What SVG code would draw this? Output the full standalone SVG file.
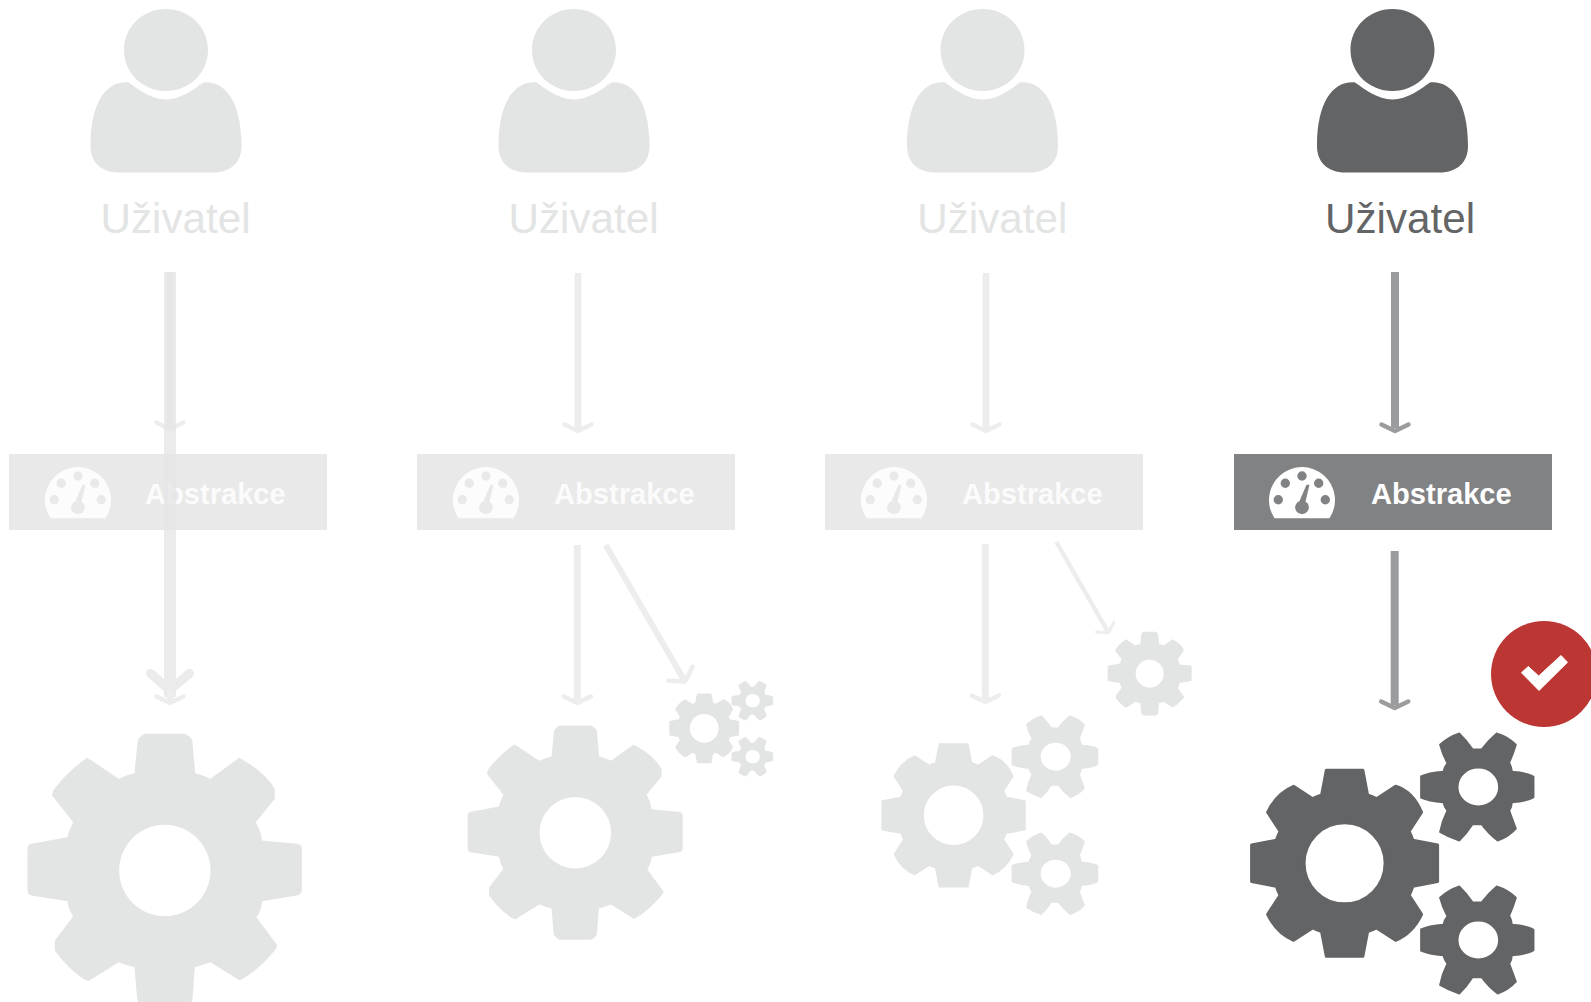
<svg xmlns="http://www.w3.org/2000/svg" width="1591" height="1002" viewBox="0 0 1591 1002">
<style>
.bg{fill:#fff}
.ic-l{fill:#e3e4e4}
.ic-d{fill:#636466}
.st-l{stroke:#e3e4e4}
.st-d{stroke:#636466}
.box-l{fill:#e9e9e9}
.box-d{fill:#818284}
.gauge-l{fill:#fcfcfc}
.gauge-d{fill:#fff}
.u{font-family:"Liberation Sans",Arial,sans-serif;font-size:42.2px}
.u-l{fill:#e3e4e4}
.u-d{fill:#636466}
.a{font-family:"Liberation Sans",Arial,sans-serif;font-size:29.1px;font-weight:bold}
.a-l{fill:#fbfbfb}
.a-d{fill:#fff}
.ln{fill:none}
.ln-l{stroke:#ededed;stroke-width:7}
.ln-d{stroke:#9b9c9e;stroke-width:8}
.hd{fill:none;stroke-width:4.5;stroke-linecap:round;stroke-linejoin:round}
</style>
<defs>
<path id="person" d="M-37.5,82.5C-28,89 -15,99.5 0,99.5C15,99.5 28,89 37.5,82.5C58,80.5 75.5,100 75.5,146C75.5,162 65,172.5 47,172.5L-47,172.5C-65,172.5 -75.5,162 -75.5,146C-75.5,100 -58,80.5 -37.5,82.5ZM-42,50C-42,27 -23.5,9 0,9C23.5,9 42,27 42,50C42,73 23.5,91 0,91C-23.5,91 -42,73 -42,50Z"/>
<path id="gear-a" fill-rule="evenodd" d="M-91,-292L-82,-385Q-82,-398 -60,-410L60,-410Q83,-398 83,-385L91,-292Q115,-288 137,-275L223,-338L237,-330Q300,-295 330,-245L330,-215L273,-145Q288,-120 292,-90L395,-80Q411,-78 411,-65L411,60Q411,72 395,75L292,92Q290,120 275,140L338,225L330,240Q280,300 225,330L137,275Q115,283 90,290L83,385Q83,398 60,410L-60,410Q-82,398 -83,385L-91,290Q-115,285 -138,275L-230,332L-245,325Q-295,290 -330,240L-330,210L-275,138Q-290,115 -292,92L-400,75Q-412,72 -412,60L-412,-65Q-412,-78 -400,-80L-292,-100Q-288,-120 -275,-145L-338,-225L-335,-240Q-290,-300 -233,-338L-220,-330L-138,-275Q-115,-288 -91,-292ZM137,0A137,137 0 1 0 -137,0A137,137 0 1 0 137,0Z"/>
<path id="gear-b" fill-rule="evenodd" stroke-width="3" stroke-linejoin="round" d="M-23,-68.3L-18.3,-93L18.3,-93L23,-68.3A72,72 0 0 1 32,-64.6L51,-77Q68,-72 77,-51L64.6,-32A72,72 0 0 1 68.3,-23L93,-18.3L93,18.3L68.3,23A72,72 0 0 1 64.6,32L77,51Q68,70 51,77L32,64.6A72,72 0 0 1 23,68.3L18.3,93L-18.3,93L-23,68.3A72,72 0 0 1 -32,64.6L-51,77Q-68,70 -77,51L-64.6,32A72,72 0 0 1 -68.3,23L-93,18.3L-93,-18.3L-68.3,-23A72,72 0 0 1 -64.6,-32L-77,-51Q-68,-70 -51,-77L-32,-64.6A72,72 0 0 1 -23,-68.3ZM40.5,0A40.5,40.5 0 1 0 -40.5,0A40.5,40.5 0 1 0 40.5,0Z"/>
<path id="gear-c" fill-rule="evenodd" stroke-width="5" stroke-linejoin="round" d="M101,-46Q150,-42 166,-31L166,31Q150,42 101,46Q101,60 93,71L113,125Q90,150 58,161Q30,140 10,112L-17,112Q-35,140 -57,161Q-90,150 -115,135Q-108,100 -93,71Q-102,60 -105,46Q-150,42 -172,32L-172,-32Q-150,-42 -105,-46Q-102,-60 -93,-71Q-108,-100 -115,-127Q-90,-150 -57,-161Q-35,-140 -17,-113L10,-113Q30,-140 55,-161Q90,-150 113,-127Q105,-100 93,-73Q100,-60 101,-46ZM62,0A62,58 0 1 0 -62,0A62,58 0 1 0 62,0Z"/>
<path id="gauge" fill-rule="evenodd" d="M-27.5,18.6A33,33 0 1 1 27.5,18.6ZM-4.7,-23.7a4.7,4.7 0 1 0 9.4,0a4.7,4.7 0 1 0 -9.4,0ZM-21.4,-16.4a4.7,4.7 0 1 0 9.4,0a4.7,4.7 0 1 0 -9.4,0ZM12,-16.4a4.7,4.7 0 1 0 9.4,0a4.7,4.7 0 1 0 -9.4,0ZM-28.4,0a4.7,4.7 0 1 0 9.4,0a4.7,4.7 0 1 0 -9.4,0ZM18.6,0a4.7,4.7 0 1 0 9.4,0a4.7,4.7 0 1 0 -9.4,0ZM4.5,-15L7.5,-15L3.5,1.8A6.8,6.8 0 1 1 -2.5,1.3Z"/>
<marker id="m-l" markerUnits="userSpaceOnUse" orient="auto" refX="0" refY="0" markerWidth="1" markerHeight="1" overflow="visible"><path class="hd" stroke="#ededed" d="M-3.5,-13.5L3,0L-3.5,13.5"/></marker>
<marker id="m-d" markerUnits="userSpaceOnUse" orient="auto" refX="0" refY="0" markerWidth="1" markerHeight="1" overflow="visible"><path class="hd" stroke="#9b9c9e" d="M-3.5,-13.5L3,0L-3.5,13.5"/></marker>
<marker id="m-m" markerUnits="userSpaceOnUse" orient="auto" refX="0" refY="0" markerWidth="1" markerHeight="1" overflow="visible"><path class="hd" stroke="#ededed" d="M-6,-14L3,0L-6,14"/></marker>
<marker id="m-s" markerUnits="userSpaceOnUse" orient="auto" refX="0" refY="0" markerWidth="1" markerHeight="1" overflow="visible"><path class="hd" stroke="#ededed" style="stroke-width:3" d="M-4.5,-10L2,0L-4.5,10"/></marker>
</defs>
<rect class="bg" width="1591" height="1002"/>

<g id="col1-abstraction"><rect class="box-l" x="9" y="454" width="318" height="76"/><use href="#gauge" class="gauge-l" transform="translate(78,499.7)"/><text class="a a-l" x="145" y="504.3">Abstrakce</text></g>
<g id="col2-abstraction"><rect class="box-l" x="417" y="454" width="318" height="76"/><use href="#gauge" class="gauge-l" transform="translate(486,499.7)"/><text class="a a-l" x="554" y="504.3">Abstrakce</text></g>
<g id="col3-abstraction"><rect class="box-l" x="825" y="454" width="318" height="76"/><use href="#gauge" class="gauge-l" transform="translate(894,499.7)"/><text class="a a-l" x="962" y="504.3">Abstrakce</text></g>
<g id="col4-abstraction"><rect class="box-d" x="1234" y="454" width="318" height="76"/><use href="#gauge" class="gauge-d" transform="translate(1302,499.7)"/><text class="a a-d" x="1371" y="503.5">Abstrakce</text></g>

<g id="connectors">
<path class="ln ln-l" marker-end="url(#m-l)" d="M170,272V426"/>
<path class="ln" stroke="#e5e5e5" stroke-opacity=".77" stroke-width="12" d="M170,272V697"/>
<path fill="none" stroke="#ebebeb" stroke-width="9" stroke-linecap="round" stroke-linejoin="round" d="M150.5,673.5L169.7,690L189.5,673.5"/>
<path class="ln ln-l" stroke-width="0" marker-end="url(#m-l)" d="M170,690V700"/>
<path class="ln ln-l" marker-end="url(#m-l)" d="M578,273V428"/>
<path class="ln ln-l" marker-end="url(#m-l)" d="M986,273V428"/>
<path class="ln ln-d" marker-end="url(#m-d)" d="M1395,272V428"/>
<path class="ln ln-l" marker-end="url(#m-l)" d="M577.3,545V700"/>
<path class="ln ln-l" style="stroke-width:6" marker-end="url(#m-m)" d="M605.7,545L683.5,679"/>
<path class="ln ln-l" marker-end="url(#m-l)" d="M985.3,544V699"/>
<path class="ln ln-l" style="stroke-width:4.5" marker-end="url(#m-s)" d="M1056.3,542L1107.5,631"/>
<path class="ln ln-d" marker-end="url(#m-d)" d="M1394.7,551V705"/>
</g>

<g id="col1-user"><use href="#person" class="ic-l" transform="translate(166,0)"/><text class="u u-l" x="100.5" y="233">Uživatel</text></g>
<g id="col2-user"><use href="#person" class="ic-l" transform="translate(574,0)"/><text class="u u-l" x="508.5" y="233">Uživatel</text></g>
<g id="col3-user"><use href="#person" class="ic-l" transform="translate(982.5,0)"/><text class="u u-l" x="917.3" y="233">Uživatel</text></g>
<g id="col4-user"><use href="#person" class="ic-d" transform="translate(1392.5,0)"/><text class="u u-d" x="1325" y="233">Uživatel</text></g>

<g id="col1-gear"><use href="#gear-a" class="ic-l" transform="translate(164.8,870.5) scale(.3333)"/></g>
<g id="col2-gears">
<use href="#gear-a" class="ic-l" transform="translate(575.3,832.7) scale(.2613)"/>
<use href="#gear-b" class="ic-l st-l" transform="translate(704.2,728.3) scale(.369)"/>
<use href="#gear-c" class="ic-l st-l" transform="translate(752.7,700.7) scale(.1215)"/>
<use href="#gear-c" class="ic-l st-l" transform="translate(752.7,756.7) scale(.1215)"/>
</g>
<g id="col3-gears">
<use href="#gear-b" class="ic-l st-l" transform="translate(953.6,815.3) scale(.7635)"/>
<use href="#gear-c" class="ic-l st-l" transform="translate(1055.7,756.7) scale(.2527)"/>
<use href="#gear-c" class="ic-l st-l" transform="translate(1055.7,873.7) scale(.2527)"/>
<use href="#gear-a" class="ic-l" transform="translate(1149.7,673.7) scale(.1022)"/>
</g>
<g id="col4-gears">
<use href="#gear-b" class="ic-d st-d" transform="translate(1344.6,863.3)"/>
<use href="#gear-c" class="ic-d st-d" transform="translate(1478.3,787) scale(.3333)"/>
<use href="#gear-c" class="ic-d st-d" transform="translate(1478.3,940) scale(.3333)"/>
</g>
<g id="check-badge">
<circle cx="1544" cy="674" r="53" fill="#bc3733"/>
<polygon fill="#fff" stroke="#fff" stroke-width="1" stroke-linejoin="round" points="1521.5,672.7 1528.3,666.5 1538.7,676 1561,655.5 1567.5,662.3 1539,690.5"/>
</g>
</svg>
